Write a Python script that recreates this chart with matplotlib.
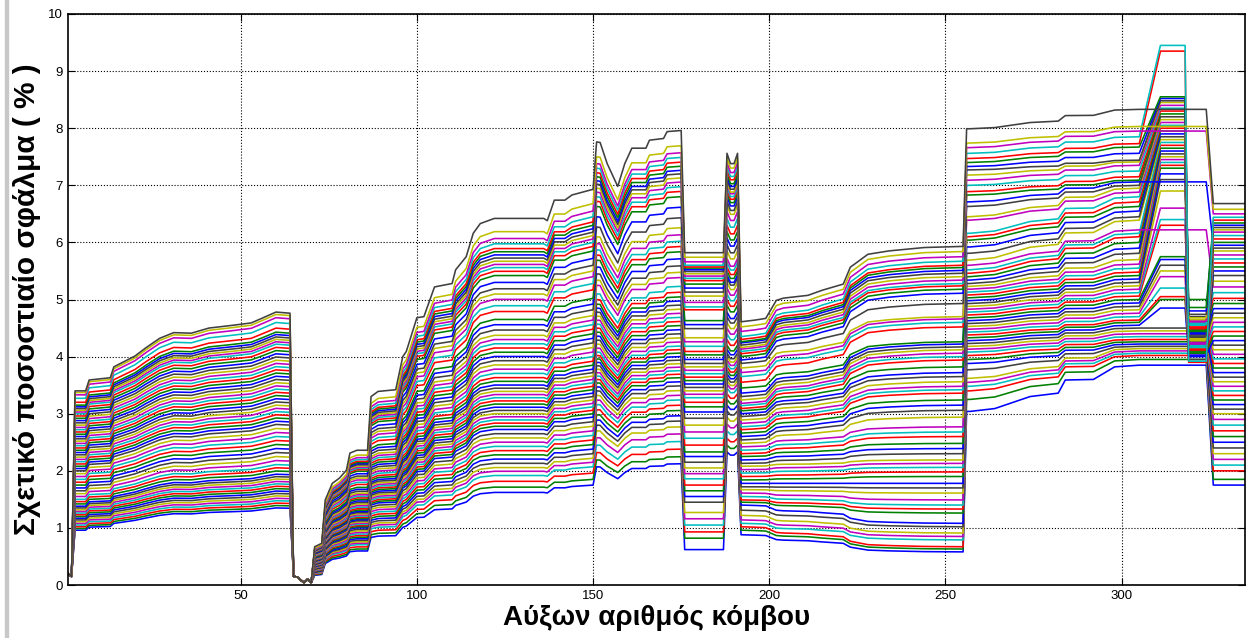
import numpy as np
import matplotlib.pyplot as plt
from matplotlib.patches import Rectangle

plt.rcParams['font.family'] = ['Liberation Sans', 'DejaVu Sans']

START_X = [1, 2]
START_Y = [0.20, 0.15]

A_X = [3, 6, 7, 13, 14, 20, 23, 27, 31, 36, 41, 48, 53, 56, 60, 64]
A_TOP = np.array([3.40, 3.40, 3.59, 3.63, 3.82, 4.01, 4.15, 4.32, 4.42, 4.41,
                  4.50, 4.55, 4.59, 4.67, 4.78, 4.76])

B_X = [65, 66, 68, 69, 70]
B_Y = [0.15, 0.14, 0.04, 0.10, 0.04]

C_X = [71, 73, 74, 76, 78, 80, 81, 83, 86, 87, 89, 94, 96, 97, 100, 102, 105,
       110, 111, 114, 116, 118, 122, 136, 137, 139, 142, 144, 150]
C_TOP = np.array([0.67, 0.73, 1.49, 1.78, 1.87, 2.01, 2.31, 2.36, 2.36, 3.30,
                  3.39, 3.42, 4.00, 4.09, 4.68, 4.70, 5.22, 5.28, 5.52, 5.75,
                  6.16, 6.33, 6.42, 6.42, 6.38, 6.74, 6.74, 6.83, 6.93])

D_X = [151, 152, 154, 157, 159, 161, 165, 166, 170, 171, 175]
D_TOP = np.array([7.76, 7.75, 7.38, 6.98, 7.38, 7.65, 7.65, 7.79, 7.82, 7.94, 7.96])

E_X = [176, 187]

F_X = [188, 189, 190, 191]
F_TOP = np.array([7.56, 7.38, 7.38, 7.56])

G_X = [192, 196, 199, 202, 204, 211, 215, 221, 223, 228, 234, 244, 255]
G_TOP = np.array([4.58, 4.61, 4.64, 4.96, 5.00, 5.05, 5.14, 5.25, 5.55, 5.78,
                  5.84, 5.90, 5.92])

H_X = [256, 257, 264, 274, 282, 284, 292, 298, 305]
H_BOT = np.array([3.04, 3.04, 3.09, 3.30, 3.36, 3.59, 3.60, 3.82, 3.85])

TAIL_X = [311, 318, 319, 324, 326, 335]

# level of every curve in each block (curves sorted low -> high)
A_LEVELS = np.array([
    0.96, 0.99, 1.02, 1.05, 1.08, 1.11, 1.14, 1.17, 1.20,
    1.23, 1.26, 1.29, 1.32, 1.35, 1.38, 1.42, 1.46, 1.50,
    1.55, 1.60, 1.65, 1.70, 1.75, 1.80, 1.85, 1.90, 1.95,
    2.00, 2.04, 2.08, 2.12, 2.16, 2.20, 2.24, 2.28, 2.32,
    2.36, 2.40, 2.44, 2.48, 2.52, 2.56, 2.60, 2.64, 2.68,
    2.72, 2.76, 2.80, 2.84, 2.88, 2.92, 2.96, 3.00, 3.03,
    3.06, 3.09, 3.12, 3.15, 3.20, 3.27, 3.33, 3.37, 3.40])
C_LEVELS = np.array([
    1.75, 1.85, 1.96, 2.07, 2.15, 2.22, 2.30, 2.38, 2.46,
    2.54, 2.62, 2.70, 2.78, 2.86, 2.94, 3.00, 3.06, 3.12,
    3.18, 3.24, 3.30, 3.36, 3.42, 3.48, 3.54, 3.60, 3.66,
    3.72, 3.78, 3.85, 3.92, 4.00, 4.08, 4.16, 4.24, 4.32,
    4.40, 4.48, 4.56, 4.64, 4.72, 4.82, 4.92, 5.02, 5.17,
    5.28, 5.40, 5.50, 5.60, 5.72, 5.85, 5.93, 6.00, 6.06,
    6.12, 6.18, 6.24, 6.30, 6.36, 6.45, 6.55, 6.68, 6.93])
D_LEVELS = np.array([
    2.07, 2.19, 2.32, 2.45, 2.58, 2.70, 2.80, 2.89, 2.98,
    3.07, 3.16, 3.24, 3.32, 3.40, 3.47, 3.54, 3.60, 3.66,
    3.72, 3.78, 3.84, 3.90, 3.96, 4.02, 4.08, 4.15, 4.22,
    4.29, 4.36, 4.43, 4.50, 4.57, 4.64, 4.71, 4.78, 4.85,
    4.92, 5.00, 5.10, 5.25, 5.34, 5.45, 5.57, 5.69, 5.78,
    5.87, 5.98, 6.10, 6.27, 6.45, 6.63, 6.72, 6.80, 6.88,
    6.95, 7.02, 7.08, 7.15, 7.22, 7.30, 7.38, 7.50, 7.76])
E_LEVELS = np.array([
    0.62, 0.82, 0.93, 1.05, 1.16, 1.27, 1.45, 1.55, 1.65,
    1.75, 1.86, 1.95, 2.05, 2.15, 2.25, 2.33, 2.45, 2.57,
    2.68, 2.80, 2.92, 3.03, 3.12, 3.20, 3.28, 3.34, 3.40,
    3.46, 3.52, 3.58, 3.64, 3.70, 3.76, 3.82, 3.88, 3.95,
    4.03, 4.09, 4.18, 4.26, 4.33, 4.49, 4.56, 4.63, 4.82,
    4.87, 4.95, 5.06, 5.13, 5.20, 5.27, 5.33, 5.37, 5.41,
    5.45, 5.49, 5.52, 5.55, 5.57, 5.60, 5.66, 5.74, 5.82])
F_LEVELS = np.array([
    2.33, 2.45, 2.57, 2.70, 2.82, 2.94, 3.05, 3.15, 3.25,
    3.35, 3.45, 3.52, 3.58, 3.64, 3.70, 3.76, 3.82, 3.88,
    3.94, 4.00, 4.06, 4.13, 4.20, 4.30, 4.40, 4.50, 4.60,
    4.70, 4.78, 4.90, 5.00, 5.10, 5.20, 5.30, 5.38, 5.43,
    5.50, 5.57, 5.65, 5.72, 5.85, 5.96, 6.08, 6.19, 6.30,
    6.42, 6.54, 6.65, 6.72, 6.80, 6.86, 6.92, 6.97, 7.02,
    7.05, 7.10, 7.15, 7.20, 7.27, 7.33, 7.40, 7.48, 7.56])
G_START = np.array([
    0.88, 0.96, 1.02, 1.08, 1.14, 1.22, 1.31, 1.40, 1.45,
    1.49, 1.55, 1.61, 1.67, 1.72, 1.78, 1.84, 1.90, 1.96,
    2.02, 2.08, 2.13, 2.19, 2.25, 2.30, 2.36, 2.42, 2.48,
    2.54, 2.60, 2.66, 2.72, 2.77, 2.83, 2.89, 2.95, 3.00,
    3.05, 3.09, 3.14, 3.18, 3.24, 3.30, 3.36, 3.45, 3.55,
    3.65, 3.72, 3.80, 3.88, 3.94, 4.00, 4.05, 4.09, 4.13,
    4.16, 4.20, 4.24, 4.26, 4.30, 4.35, 4.44, 4.52, 4.61])
G_END = np.array([
    0.58, 0.63, 0.67, 0.79, 0.85, 0.91, 1.02, 1.08, 1.26,
    1.33, 1.40, 1.49, 1.61, 1.70, 1.78, 1.90, 1.98, 2.06,
    2.13, 2.19, 2.30, 2.39, 2.48, 2.60, 2.68, 2.77, 2.94,
    3.06, 3.15, 3.24, 3.36, 3.42, 3.48, 3.56, 3.65, 3.72,
    3.82, 3.94, 4.00, 4.06, 4.12, 4.17, 4.22, 4.26, 4.52,
    4.60, 4.66, 4.70, 4.93, 5.11, 5.18, 5.24, 5.28, 5.34,
    5.40, 5.46, 5.51, 5.56, 5.60, 5.67, 5.75, 5.84, 5.93])
H_START = np.array([
    3.04, 3.25, 3.40, 3.48, 3.55, 3.62, 3.77, 3.88, 3.95,
    4.02, 4.08, 4.13, 4.18, 4.23, 4.28, 4.33, 4.38, 4.43,
    4.48, 4.53, 4.58, 4.63, 4.68, 4.73, 4.78, 4.83, 4.88,
    4.93, 4.98, 5.03, 5.08, 5.13, 5.18, 5.23, 5.28, 5.34,
    5.40, 5.46, 5.52, 5.60, 5.69, 5.81, 5.92, 6.04, 6.10,
    6.16, 6.39, 6.45, 6.63, 6.71, 6.83, 6.89, 7.00, 7.09,
    7.18, 7.27, 7.33, 7.40, 7.47, 7.56, 7.66, 7.74, 7.99])
H_END = np.array([
    3.85, 3.95, 4.02, 4.06, 4.10, 4.14, 4.18, 4.22, 4.26,
    4.30, 4.35, 4.40, 4.45, 4.50, 4.55, 4.60, 4.64, 4.70,
    4.76, 4.82, 4.88, 4.94, 5.00, 5.06, 5.12, 5.18, 5.24,
    5.30, 5.36, 5.42, 5.48, 5.55, 5.62, 5.70, 5.81, 5.90,
    6.00, 6.10, 6.16, 6.22, 6.39, 6.45, 6.55, 6.63, 6.71,
    6.80, 6.88, 6.95, 7.00, 7.06, 7.09, 7.15, 7.25, 7.35,
    7.41, 7.44, 7.56, 7.67, 7.73, 7.85, 7.95, 8.03, 8.33])
PEAK = np.array([
    3.85, 3.95, 4.02, 4.06, 4.10, 4.14, 4.18, 4.22, 4.26,
    4.30, 4.35, 4.40, 4.45, 4.50, 4.85, 5.00, 5.05, 5.20,
    5.40, 5.50, 5.60, 5.70, 5.75, 6.30, 6.40, 6.60, 6.90,
    7.10, 7.20, 7.30, 7.35, 7.40, 7.45, 7.50, 7.55, 7.60,
    7.65, 7.70, 7.75, 6.22, 7.80, 7.85, 7.90, 7.95, 8.00,
    8.05, 8.10, 8.15, 8.20, 7.06, 8.25, 8.30, 8.35, 8.40,
    8.45, 8.48, 8.52, 8.55, 9.35, 9.45, 7.95, 8.03, 8.33])
MID = np.array([
    3.85, 3.95, 4.02, 4.06, 4.10, 4.14, 4.18, 4.22, 4.26,
    4.30, 4.35, 4.40, 4.45, 4.50, 4.05, 4.10, 4.15, 4.20,
    4.25, 4.32, 4.38, 4.42, 5.00, 4.48, 4.55, 4.60, 4.65,
    4.70, 4.02, 4.08, 4.12, 4.18, 4.22, 4.28, 4.34, 4.40,
    4.46, 4.52, 4.58, 6.22, 4.64, 3.95, 4.00, 4.06, 4.12,
    4.16, 4.24, 4.30, 4.36, 7.06, 4.44, 4.50, 4.56, 4.62,
    4.68, 4.74, 4.80, 4.86, 3.90, 3.92, 7.95, 8.03, 8.33])
J_LEVELS = np.array([
    1.75, 1.85, 2.00, 2.10, 2.20, 2.30, 2.40, 2.50, 2.60,
    2.70, 2.80, 2.90, 3.00, 3.08, 3.16, 3.24, 3.32, 3.40,
    3.48, 3.56, 3.64, 3.72, 3.80, 3.88, 3.96, 4.04, 4.12,
    4.20, 4.28, 4.36, 4.44, 4.52, 4.60, 4.68, 4.76, 4.84,
    4.93, 5.02, 5.12, 5.22, 5.32, 5.42, 5.50, 5.57, 5.64,
    5.71, 5.78, 5.85, 5.90, 5.95, 6.00, 6.06, 6.12, 6.18,
    6.22, 6.26, 6.30, 6.34, 6.39, 6.44, 6.50, 6.58, 6.68])

# old matlab colour order b g r c m y k
COLORS = [(0, 0, 1), (0, 0.5, 0), (1, 0, 0), (0, 0.75, 0.75),
          (0.75, 0, 0.75), (0.75, 0.75, 0), (0.25, 0.25, 0.25)]

x_all = np.concatenate([START_X, A_X, B_X, C_X, D_X, E_X, F_X, G_X, H_X, TAIL_X])

a_ratio = A_TOP / A_TOP[0]
c_ratio = C_TOP / C_TOP[-1]
d_ratio = D_TOP / D_TOP[0]
f_ratio = F_TOP / F_TOP[0]
g_s = (G_TOP - G_TOP[0]) / (G_TOP[-1] - G_TOP[0])
h_s = (H_BOT - H_BOT[0]) / (H_BOT[-1] - H_BOT[0])

fig = plt.figure(figsize=(12.47, 6.38), dpi=100)
ax = fig.add_axes([68 / 1247, 53 / 638, 1177 / 1247, 571 / 638])

for i in range(len(A_LEVELS)):
    y = np.concatenate([
        START_Y,
        A_LEVELS[i] * a_ratio,
        B_Y,
        C_LEVELS[i] * c_ratio,
        D_LEVELS[i] * d_ratio,
        [E_LEVELS[i], E_LEVELS[i]],
        F_LEVELS[i] * f_ratio,
        G_START[i] + (G_END[i] - G_START[i]) * g_s,
        H_START[i] + (H_END[i] - H_START[i]) * h_s,
        [PEAK[i], PEAK[i], MID[i], MID[i], J_LEVELS[i], J_LEVELS[i]]])
    ax.plot(x_all, y, color=COLORS[i % 7], linewidth=1.15)

ax.set_xlim(1, 335)
ax.set_ylim(0, 10)
ax.set_xticks([50, 100, 150, 200, 250, 300])
ax.set_yticks(range(0, 11))
ax.grid(True, linestyle=':', color='k', linewidth=0.8)
ax.tick_params(direction='in', top=True, right=True, length=5, labelsize=9.5)
for sp in ax.spines.values():
    sp.set_linewidth(1.2)

ax.set_xlabel('Αύξων αριθμός κόμβου', fontsize=20, fontweight='bold', labelpad=2)
ax.set_ylabel('Σχετικό ποσοστιαίο σφάλμα ( % )', fontsize=21.5, fontweight='bold', labelpad=5)

# grey strip at the left border of the window
fig.add_artist(Rectangle((5 / 1247, 0), 3 / 1247, 1, transform=fig.transFigure,
                         color='#c8c8c8'))

plt.savefig('out.png', dpi=100)
